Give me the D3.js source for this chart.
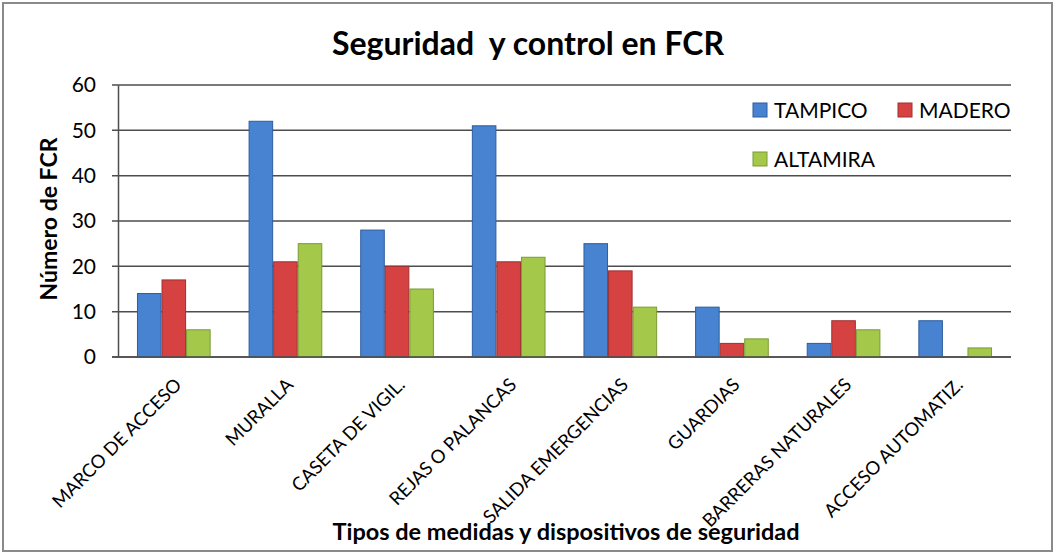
<!DOCTYPE html>
<html>
<head>
<meta charset="utf-8">
<script src="https://cdn.jsdelivr.net/npm/d3@7"></script>
<style>
  body { margin: 0; background: #fff; }
  svg text { font-family: Lato, "Open Sans", sans-serif; fill: #000; }
</style>
</head>
<body>
<div class="svgcont"></div>
<script>
// datos
const categorias = ["MARCO DE ACCESO", "MURALLA", "CASETA DE VIGIL.", "REJAS O PALANCAS",
  "SALIDA EMERGENCIAS", "GUARDIAS", "BARRERAS NATURALES", "ACCESO AUTOMATIZ."];
const series = ["TAMPICO", "MADERO", "ALTAMIRA"];
const tampico = [14, 52, 28, 51, 25, 11, 3, 8];
const madero = [17, 21, 20, 21, 19, 3, 8, 0];
const altamira = [6, 25, 15, 22, 11, 4, 6, 2];
const yTicks = [0, 10, 20, 30, 40, 50, 60];

const valores = [tampico, madero, altamira];
const relleno = ["#4783d0", "#d64242", "#a3c84a"];
const borde = ["#2e5d9f", "#9e3030", "#7c9a36"];

const w = 1055, h = 555;
const plotL = 118, plotR = 1011, plotT = 85, plotB = 357;

let svg = d3.select(".svgcont").append("svg")
  .attr("width", w).attr("height", h);

svg.append("rect")
  .attr("x", 3).attr("y", 3).attr("width", 1049).attr("height", 548)
  .attr("fill", "#fff").attr("stroke", "#8a8a8a").attr("stroke-width", 2);

const x0 = d3.scaleBand().domain(categorias).range([plotL, plotR])
  .paddingInner(0.34).paddingOuter(0.17);
const x1 = d3.scaleBand().domain(series).range([0, x0.bandwidth()]);
const yScale = d3.scaleLinear().domain([0, 60]).range([plotB, plotT]);

// lineas de cuadricula
svg.append("g").selectAll("line").data(yTicks).enter().append("line")
  .attr("x1", plotL - 6).attr("x2", plotR)
  .attr("y1", d => yScale(d)).attr("y2", d => yScale(d))
  .attr("stroke", "#4d4d4d").attr("stroke-width", 1.5);

const yAxis = d3.axisLeft(yScale).tickValues(yTicks).tickSize(0).tickPadding(22);
let gy = svg.append("g").attr("transform", `translate(${plotL},0)`).call(yAxis);
gy.select(".domain").attr("stroke", "#4d4d4d").attr("stroke-width", 1.5);
gy.selectAll("text").style("font-size", "21px").attr("fill", "#000");

// barras
let grupos = svg.append("g").selectAll("g").data(categorias).enter().append("g")
  .attr("transform", d => `translate(${x0(d)},0)`);

grupos.selectAll("rect")
  .data((d, i) => series.map((s, j) => ({ s: s, j: j, v: valores[j][i] })))
  .enter().append("rect")
  .filter(d => d.v > 0)
  .attr("x", d => x1(d.s) + 0.5)
  .attr("y", d => yScale(d.v))
  .attr("width", x1.bandwidth() - 1)
  .attr("height", d => plotB - yScale(d.v))
  .attr("fill", d => relleno[d.j])
  .attr("stroke", d => borde[d.j])
  .attr("stroke-width", 1);

// eje x
svg.append("line").attr("x1", plotL - 6).attr("x2", plotR)
  .attr("y1", plotB).attr("y2", plotB)
  .attr("stroke", "#4d4d4d").attr("stroke-width", 1.5);

svg.append("g").selectAll("text").data(categorias).enter().append("text")
  .attr("text-anchor", "end")
  .attr("transform", d => `translate(${x0(d) + x0.bandwidth() / 2 + 9},386) rotate(-45)`)
  .style("font-size", "18.5px")
  .text(d => d);

// titulos
svg.append("text").attr("x", 528).attr("y", 55).attr("text-anchor", "middle")
  .style("font-size", "32px").style("font-weight", "bold")
  .style("white-space", "pre")
  .text("Seguridad  y control en FCR");

svg.append("text").attr("x", 566).attr("y", 540).attr("text-anchor", "middle")
  .style("font-size", "23.5px").style("font-weight", "bold")
  .text("Tipos de medidas y dispositivos de seguridad");

svg.append("text").attr("transform", "translate(57,219) rotate(-90)")
  .attr("text-anchor", "middle")
  .style("font-size", "23px").style("font-weight", "bold")
  .text("Número de FCR");

// leyenda
const leyenda = [
  { s: "TAMPICO", x: 753, y: 103 },
  { s: "MADERO", x: 898, y: 103 },
  { s: "ALTAMIRA", x: 753, y: 152 }
];
let lg = svg.append("g").selectAll("g").data(leyenda).enter().append("g")
  .attr("transform", d => `translate(${d.x},${d.y})`);
lg.append("rect").attr("width", 14).attr("height", 14)
  .attr("fill", (d, i) => relleno[i]).attr("stroke", (d, i) => borde[i]);
lg.append("text").attr("x", 21).attr("y", 14.5)
  .style("font-size", "21px").text(d => d.s);
</script>
</body>
</html>
